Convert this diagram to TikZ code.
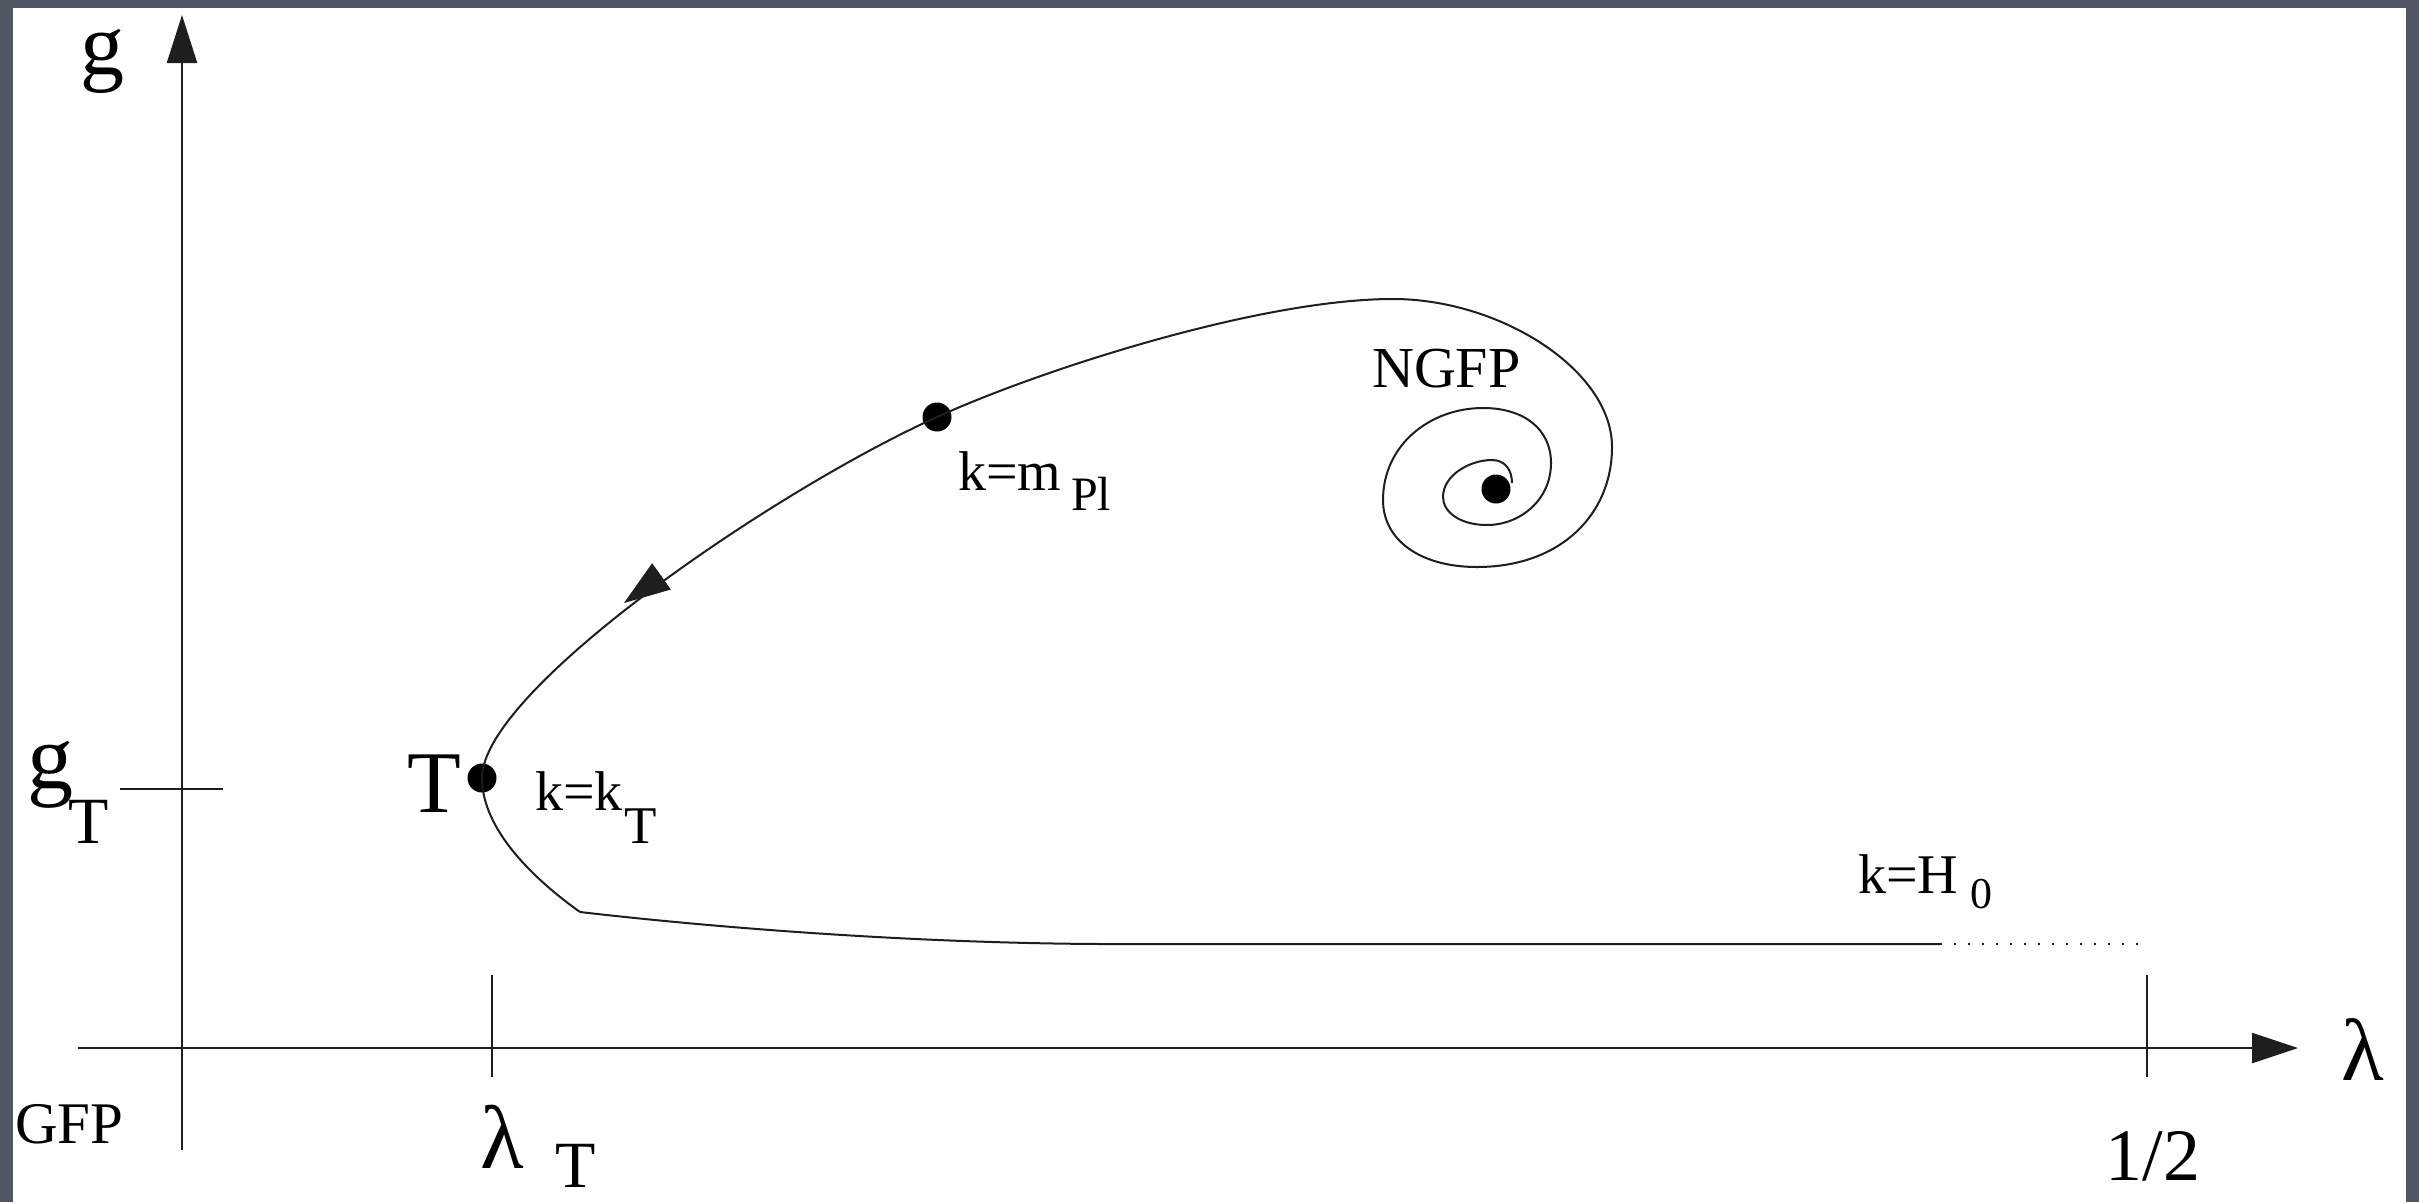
\documentclass[tikz,border=0pt]{standalone}
\usepackage{fontspec}
\setmainfont{Liberation Serif}
\usetikzlibrary{arrows.meta}
\definecolor{bgslate}{RGB}{82,87,101}
\definecolor{ink}{RGB}{30,30,30}
\begin{document}
\begin{tikzpicture}[x=1pt,y=-1pt,
  lbl/.style={anchor=base west, inner sep=0pt, font=\fontsize{56}{60}\selectfont},
  sublbl/.style={anchor=base west, inner sep=0pt, font=\fontsize{48}{52}\selectfont},
  biglbl/.style={anchor=base west, inner sep=0pt, font=\fontsize{88}{92}\selectfont},
  midsub/.style={anchor=base west, inner sep=0pt, font=\fontsize{66}{70}\selectfont},
  axisline/.style={draw=ink, line width=2.4pt},
  tickline/.style={draw=ink, line width=2.2pt},
  flow/.style={draw=ink, line width=2pt, line join=round},
  fixdot/.style={circle, fill=black, inner sep=0pt, minimum size=29pt}]
\useasboundingbox (0,0) rectangle (2419,1202);
\fill[bgslate] (0,0) rectangle (2419,1202);
\fill[white] (13,8) rectangle (2406,1202);

% axes
\coordinate (xs) at (78,1048);
\coordinate (xe) at (2298,1048);
\coordinate (ys) at (182,1150);
\coordinate (ye) at (182,15);
\draw[axisline, -{Triangle[length=46pt,width=30pt]}] (xs) -- (xe);
\draw[axisline, -{Triangle[length=48pt,width=30pt]}] (ys) -- (ye);

% ticks
\coordinate (lt1) at (492,975); \coordinate (lt2) at (492,1077);
\coordinate (ht1) at (2147,975); \coordinate (ht2) at (2147,1077);
\coordinate (gt1) at (120,789); \coordinate (gt2) at (223,789);
\draw[tickline] (lt1) -- (lt2);
\draw[tickline] (ht1) -- (ht2);
\draw[tickline] (gt1) -- (gt2);

% fixed points / marked points
\coordinate (kink) at (580,912);
\node[fixdot] (Tdot) at (482,778) {};
\node[fixdot] (Pldot) at (937,417) {};
\node[fixdot] (NGdot) at (1496,489) {};

% trajectory: upper branch from the kink through T, the Planck point, into the spiral
\draw[flow] (kink)
  .. controls (535,880) and (482,830) .. (Tdot.center)
  .. controls (482,690) and (775,490) .. (Pldot.center)
  .. controls (1040,370) and (1260,299) .. (1393,299)
  .. controls (1500,299) and (1612,370) .. (1612,447)
  .. controls (1612,515) and (1560,567) .. (1477,567)
  .. controls (1420,567) and (1383,540) .. (1383,500)
  .. controls (1383,445) and (1430,408) .. (1483,408)
  .. controls (1525,408) and (1551,430) .. (1551,463)
  .. controls (1551,500) and (1520,525) .. (1487,525)
  .. controls (1460,525) and (1443,512) .. (1443,497)
  .. controls (1443,475) and (1470,460) .. (1492,460)
  .. controls (1505,460) and (1512,470) .. (1512,483);
% lower branch
\coordinate (ds) at (1940,944);
\coordinate (de) at (2138,944);
\draw[flow] (kink) .. controls (700,926) and (900,943) .. (1100,944) -- (ds);
\draw[ink, line width=2pt, dash pattern=on 2pt off 12pt] (ds) -- (de);

% flow arrow
\coordinate (ab) at (662,576);
\coordinate (at) at (624,603);
\draw[ink, line width=1pt, -{Triangle[length=46pt,width=32pt]}] (ab) -- (at);

% labels
\node[biglbl] (gax) at (80,74) {g};
\node[biglbl] (lamax) at (2341,1080) {λ};
\node[biglbl, font=\fontsize{92}{96}\selectfont] (gT) at (27,788) {g};
\node[midsub] (gTs) at (68,843) {T};
\node[biglbl, font=\fontsize{90}{94}\selectfont] (lamT) at (480,1168) {λ};
\node[midsub] (lamTs) at (555,1187) {T};
\node[biglbl] (Tlab) at (407,812) {T};
\node[lbl, font=\fontsize{59}{62}\selectfont] (gfp) at (15,1143) {GFP};
\node[lbl, font=\fontsize{58}{62}\selectfont] (ngfp) at (1372,387) {NGFP};
\node[lbl] (kT) at (535,810) {k=k};
\node[sublbl, font=\fontsize{53}{56}\selectfont] (kTs) at (624,843) {T};
\node[lbl] (kPl) at (958,490) {k=m};
\node[sublbl] (kPls) at (1071,510) {Pl};
\node[lbl] (kH) at (1858,893) {k=H};
\node[sublbl, font=\fontsize{44}{48}\selectfont] (kHs) at (1970,908) {0};
\node[anchor=base, inner sep=0pt, font=\fontsize{74}{78}\selectfont] (half) at (2153,1180) {1/2};
\end{tikzpicture}
\end{document}
